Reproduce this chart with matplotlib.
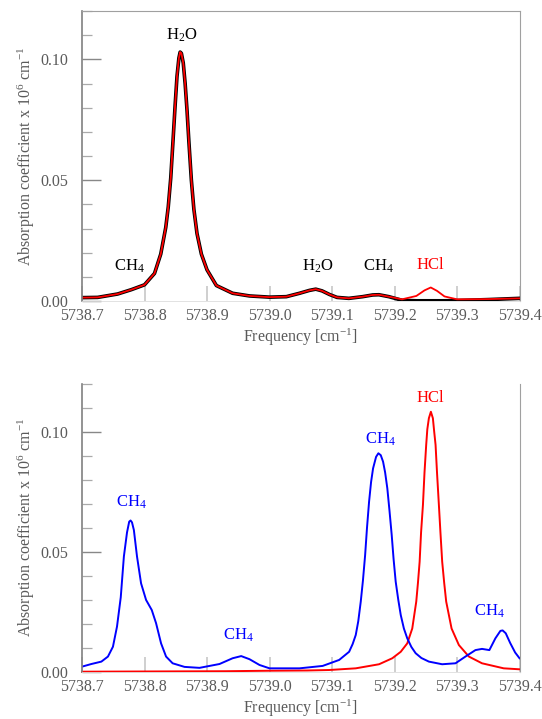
import matplotlib
matplotlib.use('Agg')
from matplotlib import pyplot as plt
from matplotlib.ticker import MultipleLocator, FormatStrFormatter

plt.rcParams['font.family'] = ['Liberation Serif', 'DejaVu Serif']
plt.rcParams['mathtext.fontset'] = 'custom'
plt.rcParams['mathtext.rm'] = 'Liberation Serif'
plt.rcParams['mathtext.it'] = 'Liberation Serif:italic'

# top panel: total spectrum without / with HCl
top_freq = [5738.700, 5738.725, 5738.757, 5738.779, 5738.800, 5738.816, 5738.826, 5738.834,
            5738.838, 5738.842, 5738.846, 5738.849, 5738.852, 5738.855, 5738.857, 5738.859,
            5738.862, 5738.865, 5738.868, 5738.871, 5738.875, 5738.879, 5738.884, 5738.891,
            5738.900, 5738.915, 5738.941, 5738.968, 5739.000, 5739.027, 5739.048, 5739.064,
            5739.074, 5739.084, 5739.096, 5739.108, 5739.127, 5739.149, 5739.165, 5739.175,
            5739.191, 5739.212, 5739.235, 5739.248, 5739.258, 5739.268, 5739.280, 5739.300,
            5739.350, 5739.400]
top_no_hcl = [0.0015, 0.0016, 0.0030, 0.0048, 0.0068, 0.0115, 0.0195, 0.0305,
              0.0390, 0.0510, 0.0680, 0.0810, 0.0930, 0.1005, 0.1030, 0.1025,
              0.0985, 0.0900, 0.0790, 0.0660, 0.0500, 0.0380, 0.0280, 0.0195,
              0.0130, 0.0065, 0.0033, 0.0022, 0.0017, 0.0019, 0.0033, 0.0045,
              0.0050, 0.0043, 0.0028, 0.0016, 0.0012, 0.0019, 0.0026, 0.0027,
              0.0019, 0.0004, 0.0002, 0.0002, 0.0002, 0.0002, 0.0002, 0.0003,
              0.0007, 0.0012]
top_with_hcl = [0.0015, 0.0016, 0.0030, 0.0048, 0.0068, 0.0115, 0.0195, 0.0305,
                0.0390, 0.0510, 0.0680, 0.0810, 0.0930, 0.1005, 0.1030, 0.1025,
                0.0985, 0.0900, 0.0790, 0.0660, 0.0500, 0.0380, 0.0280, 0.0195,
                0.0130, 0.0065, 0.0033, 0.0022, 0.0017, 0.0019, 0.0033, 0.0045,
                0.0050, 0.0043, 0.0028, 0.0016, 0.0012, 0.0019, 0.0026, 0.0027,
                0.0019, 0.0008, 0.0022, 0.0045, 0.0057, 0.0043, 0.0020, 0.0008,
                0.0009, 0.0012]

# bottom panel: CH4 and HCl alone
ch4_freq = [5738.700, 5738.715, 5738.731, 5738.7415, 5738.7495, 5738.756, 5738.762, 5738.767,
            5738.772, 5738.7755, 5738.7777, 5738.780, 5738.783, 5738.788, 5738.7945, 5738.8025,
            5738.8116, 5738.8185, 5738.8265, 5738.8345, 5738.845, 5738.864, 5738.888, 5738.920,
            5738.941, 5738.9547, 5738.968, 5738.984, 5739.000, 5739.048, 5739.085, 5739.1115,
            5739.1274, 5739.133, 5739.138, 5739.142, 5739.146, 5739.1495, 5739.153, 5739.156,
            5739.1593, 5739.1625, 5739.1657, 5739.1705, 5739.1742, 5739.178, 5739.1817, 5739.185,
            5739.1885, 5739.192, 5739.1955, 5739.1985, 5739.2019, 5739.206, 5739.210, 5739.215,
            5739.2204, 5739.227, 5739.2338, 5739.243, 5739.255, 5739.2762, 5739.2976, 5739.3135,
            5739.3295, 5739.340, 5739.3518, 5739.3614, 5739.3694, 5739.373, 5739.378, 5739.385,
            5739.393, 5739.400]
ch4_abs = [0.0021, 0.0032, 0.0042, 0.0063, 0.0104, 0.0188, 0.0310, 0.0480,
           0.0580, 0.0625, 0.0630, 0.0622, 0.0590, 0.0480, 0.0368, 0.0299,
           0.0257, 0.0202, 0.0118, 0.0063, 0.0035, 0.0020, 0.0016, 0.0032,
           0.0056, 0.0065, 0.0052, 0.0028, 0.0014, 0.0014, 0.0024, 0.0049,
           0.0083, 0.0115, 0.0153, 0.0210, 0.0292, 0.0380, 0.0486, 0.0600,
           0.0708, 0.0790, 0.0847, 0.0895, 0.0910, 0.0902, 0.0875, 0.0830,
           0.0764, 0.0670, 0.0570, 0.0470, 0.0375, 0.0300, 0.0236, 0.0180,
           0.0139, 0.0103, 0.0077, 0.0057, 0.0042, 0.0031, 0.0035, 0.0063,
           0.0090, 0.0095, 0.0090, 0.0139, 0.0170, 0.0172, 0.0160, 0.0120,
           0.0080, 0.0056]

hcl_freq = [5738.700, 5738.930, 5739.000, 5739.060, 5739.0955, 5739.138, 5739.1753, 5739.1965,
            5739.210, 5739.2204, 5739.2284, 5739.2348, 5739.2375, 5739.2402, 5739.2425, 5739.2455,
            5739.248, 5739.2507, 5739.2525, 5739.255, 5739.2582, 5739.2614, 5739.2635, 5739.2657,
            5739.268, 5739.271, 5739.2735, 5739.2763, 5739.2795, 5739.2827, 5739.2913, 5739.303,
            5739.319, 5739.340, 5739.3747, 5739.400]
hcl_abs = [0.0000, 0.0002, 0.0004, 0.0005, 0.0007, 0.0014, 0.0031, 0.0056,
           0.0083, 0.0118, 0.0180, 0.0292, 0.0370, 0.0458, 0.0580, 0.0695,
           0.0830, 0.0945, 0.1010, 0.1056, 0.1083, 0.1056, 0.1000, 0.0945,
           0.0830, 0.0695, 0.0580, 0.0458, 0.0370, 0.0292, 0.0180, 0.0111,
           0.0063, 0.0035, 0.0014, 0.0010]

# peak labels (text, freq, height, colour)
top_labels = [('H$_2$O', 5738.859, 0.110, 'black'),
              ('CH$_4$', 5738.776, 0.0145, 'black'),
              ('H$_2$O', 5739.078, 0.0145, 'black'),
              ('CH$_4$', 5739.175, 0.0145, 'black'),
              ('HCl', 5739.258, 0.0150, 'red')]
bottom_labels = [('CH$_4$', 5738.779, 0.0705, 'blue'),
                 ('CH$_4$', 5738.951, 0.0150, 'blue'),
                 ('CH$_4$', 5739.178, 0.0970, 'blue'),
                 ('CH$_4$', 5739.352, 0.0250, 'blue'),
                 ('HCl', 5739.258, 0.1140, 'red')]

grey = '#5a5a5a'


def style_axis(ax, top_spine=True):
    ax.set_xlim(5738.7, 5739.4)
    ax.set_ylim(0, 0.12)
    ax.xaxis.set_major_locator(MultipleLocator(0.1))
    ax.xaxis.set_major_formatter(FormatStrFormatter('%.1f'))
    ax.yaxis.set_major_locator(MultipleLocator(0.05))
    ax.yaxis.set_minor_locator(MultipleLocator(0.01))
    ax.yaxis.set_major_formatter(FormatStrFormatter('%.2f'))
    ax.tick_params(axis='x', which='major', direction='in', length=11, width=1.3,
                   color='#cccccc', labelsize=11.5, labelcolor=grey, pad=5)
    ax.tick_params(axis='y', which='major', direction='in', length=14, width=1.0,
                   color='#888888', labelsize=11.5, labelcolor=grey, pad=10)
    ax.tick_params(axis='y', which='minor', direction='in', length=7, width=0.9,
                   color='#aaaaaa')
    ax.spines['left'].set_color('#808080')
    ax.spines['left'].set_linewidth(1.2)
    ax.spines['right'].set_color('#a0a0a0')
    ax.spines['bottom'].set_color('#dddddd')
    ax.spines['bottom'].set_linewidth(0.6)
    if top_spine:
        ax.spines['top'].set_color('#a0a0a0')
    else:
        ax.spines['top'].set_visible(False)
    ax.set_xlabel('Frequency [cm$^{-1}$]', fontsize=11.5, color=grey, labelpad=2)
    ax.set_ylabel('Absorption coefficient x 10$^{6}$ cm$^{-1}$', fontsize=11.5,
                  color=grey, labelpad=2)


fig = plt.figure(figsize=(5.42, 7.19), dpi=100)
ax1 = fig.add_axes([0.1513, 0.5810, 0.8072, 0.4038])
ax2 = fig.add_axes([0.1513, 0.0658, 0.8072, 0.4006])

ax1.plot(top_freq, top_no_hcl, color='black', linewidth=2.6, solid_joinstyle='round')
ax1.plot(top_freq, top_with_hcl, color='red', linewidth=1.3, solid_joinstyle='round')
for txt, f, v, c in top_labels:
    ax1.text(f, v, txt, color=c, fontsize=12, ha='center', va='center')
style_axis(ax1, True)

ax2.plot(hcl_freq, hcl_abs, color='red', linewidth=1.4, solid_joinstyle='round', clip_on=False)
ax2.plot(ch4_freq, ch4_abs, color='blue', linewidth=1.4, solid_joinstyle='round')
for txt, f, v, c in bottom_labels:
    ax2.text(f, v, txt, color=c, fontsize=12, ha='center', va='center')
style_axis(ax2, False)

fig.savefig('out.png', dpi=100)
